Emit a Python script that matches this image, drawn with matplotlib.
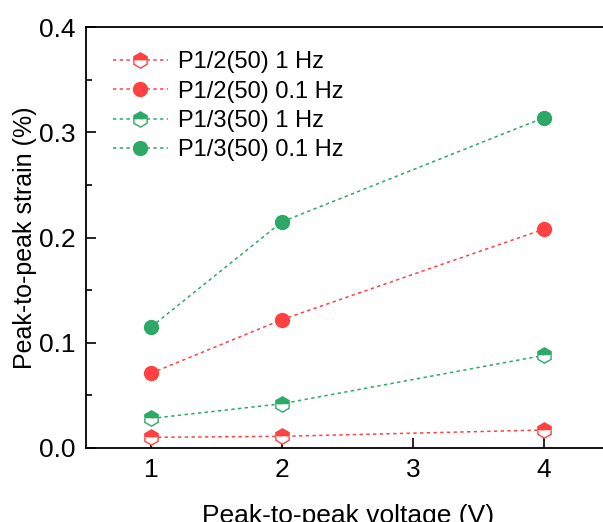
import matplotlib.pyplot as plt
from matplotlib.ticker import MultipleLocator

plt.rcParams['font.family'] = ['Liberation Sans', 'DejaVu Sans']

# peak-to-peak voltage (V)
voltage = [1, 2, 4]

# peak-to-peak strain (%) for each sample / frequency
p12_1hz = [0.010, 0.011, 0.017]
p12_01hz = [0.071, 0.122, 0.208]
p13_1hz = [0.028, 0.042, 0.088]
p13_01hz = [0.115, 0.215, 0.314]

labels = ['P1/2(50) 1 Hz', 'P1/2(50) 0.1 Hz', 'P1/3(50) 1 Hz', 'P1/3(50) 0.1 Hz']

red = '#FF4141'
green = '#2EA866'

fig = plt.figure(figsize=(6.03, 5.22), dpi=100)
ax = fig.add_axes([0.142, 0.142, 0.869, 0.806])

dash = (0, (2.2, 2.2))

# half filled hexagons for 1 Hz, solid circles for 0.1 Hz
ax.plot(voltage, p12_1hz, color=red, linestyle=dash, linewidth=1.1,
        marker='h', markersize=11, fillstyle='top', markerfacecolor=red,
        markerfacecoloralt='white', markeredgecolor=red, markeredgewidth=1.0,
        label=labels[0])
ax.plot(voltage, p12_01hz, color=red, linestyle=dash, linewidth=1.1,
        marker='o', markersize=10, markerfacecolor=red, markeredgecolor=red,
        label=labels[1])
ax.plot(voltage, p13_1hz, color=green, linestyle=dash, linewidth=1.1,
        marker='h', markersize=11, fillstyle='top', markerfacecolor=green,
        markerfacecoloralt='white', markeredgecolor=green, markeredgewidth=1.0,
        label=labels[2])
ax.plot(voltage, p13_01hz, color=green, linestyle=dash, linewidth=1.1,
        marker='o', markersize=10, markerfacecolor=green, markeredgecolor=green,
        label=labels[3])

ax.set_xlim(0.5, 4.5)
ax.set_ylim(0, 0.4)
ax.set_xticks([1, 2, 3, 4])
ax.yaxis.set_major_locator(MultipleLocator(0.1))
ax.yaxis.set_minor_locator(MultipleLocator(0.05))
ax.yaxis.set_major_formatter(plt.FormatStrFormatter('%.1f'))

ax.tick_params(axis='both', which='major', direction='in', length=7, width=1.2,
               labelsize=19, pad=7)
ax.tick_params(axis='y', which='minor', direction='in', length=4, width=1.2)
ax.tick_params(axis='x', which='minor', bottom=False)
for s in ax.spines.values():
    s.set_linewidth(1.3)

ax.set_xlabel('Peak-to-peak voltage (V)', fontsize=19, labelpad=16)
ax.set_ylabel('Peak-to-peak strain (%)', fontsize=18, labelpad=2)

ax.legend(loc='upper left', frameon=False, fontsize=17, handlelength=2.35,
          labelspacing=0.31, borderaxespad=0.5, handletextpad=0.4,
          bbox_to_anchor=(0.011, 0.993))

fig.savefig('out.png', dpi=100)
